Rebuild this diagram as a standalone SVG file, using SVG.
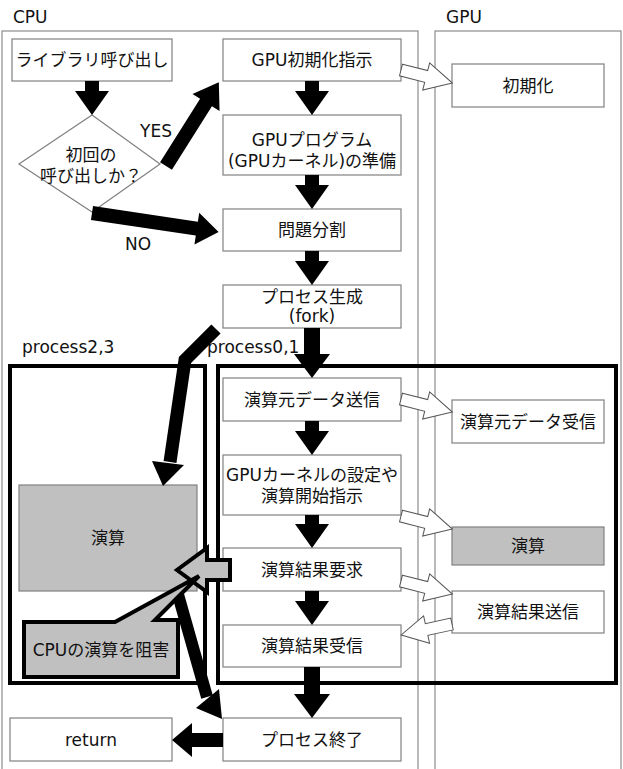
<svg xmlns="http://www.w3.org/2000/svg" width="623" height="769" viewBox="0 0 623 769">
<style>
.lane{fill:#fff;stroke:#8c8c8c;stroke-width:1.2}
.box{fill:#fff;stroke:#808080;stroke-width:1.2}
.gbox{fill:#c0c0c0;stroke:#808080;stroke-width:1.2}
.frame{fill:none;stroke:#000;stroke-width:4}
.t{font-family:"DejaVu Sans","Noto Sans CJK JP",sans-serif;font-size:17px;fill:#111;text-anchor:middle}
.l{font-family:"DejaVu Sans","Noto Sans CJK JP",sans-serif;font-size:17px;fill:#111}
.ba{fill:#000}
.wa{fill:#fff;stroke:#555;stroke-width:1}
.ga{fill:#c0c0c0;stroke:#000;stroke-width:4;stroke-linejoin:miter}
</style>
<rect width="623" height="769" fill="#fff"/>
<g id="lanes">
<rect class="lane" x="2" y="31" width="416" height="760"/>
<rect class="lane" x="435" y="31" width="186" height="760"/>
<text class="l" x="13" y="23">CPU</text>
<text class="l" x="446" y="23">GPU</text>
</g>
<g id="frames">
<rect class="frame" x="10" y="366" width="195" height="317"/>
<rect class="frame" x="218" y="366" width="398" height="317"/>
<text class="l" x="22" y="353">process2,3</text>
<text class="l" x="207" y="353">process0,1</text>
</g>
<g id="n-lib"><rect class="box" x="12" y="39" width="160" height="42"/><text class="t" x="92" y="66">ライブラリ呼び出し</text></g>
<g id="n-gpuinit"><rect class="box" x="223" y="39" width="178" height="42"/><text class="t" x="312" y="66">GPU初期化指示</text></g>
<g id="n-init"><rect class="box" x="452" y="64" width="152" height="43"/><text class="t" x="528" y="92">初期化</text></g>
<g id="n-decision"><polygon points="92,115 160,164 92,212 19,164" fill="#fff" stroke="#808080" stroke-width="1.2"/><text class="t" x="91" y="161">初回の</text><text class="t" x="91" y="182">呼び出しか？</text></g>
<g id="n-prep"><rect class="box" x="223" y="115" width="178" height="60"/><text class="t" x="312" y="146">GPUプログラム</text><text class="t" x="312" y="167">(GPUカーネル)の準備</text></g>
<g id="n-split"><rect class="box" x="223" y="209" width="178" height="42"/><text class="t" x="312" y="236">問題分割</text></g>
<g id="n-fork"><rect class="box" x="223" y="285" width="178" height="43"/><text class="t" x="312" y="303">プロセス生成</text><text class="t" x="312" y="322">(fork)</text></g>
<g id="n-send"><rect class="box" x="223" y="378" width="178" height="43"/><text class="t" x="312" y="406">演算元データ送信</text></g>
<g id="n-recv"><rect class="box" x="452" y="400" width="152" height="43"/><text class="t" x="528" y="428">演算元データ受信</text></g>
<g id="n-kernel"><rect class="box" x="223" y="455" width="178" height="60"/><text class="t" x="312" y="481">GPUカーネルの設定や</text><text class="t" x="312" y="502">演算開始指示</text></g>
<g id="n-cpucalc"><rect class="gbox" x="19" y="485" width="178" height="106"/><text class="t" x="108" y="544">演算</text></g>
<g id="n-gpucalc"><rect class="gbox" x="452" y="527" width="152" height="38"/><text class="t" x="528" y="552">演算</text></g>
<g id="n-req"><rect class="box" x="223" y="548" width="178" height="43"/><text class="t" x="312" y="576">演算結果要求</text></g>
<g id="n-result"><rect class="box" x="452" y="591" width="152" height="42"/><text class="t" x="528" y="618">演算結果送信</text></g>
<g id="n-resrecv"><rect class="box" x="223" y="625" width="178" height="42"/><text class="t" x="312" y="652">演算結果受信</text></g>
<g id="n-end"><rect class="box" x="223" y="718" width="178" height="43"/><text class="t" x="312" y="746">プロセス終了</text></g>
<g id="n-return"><rect class="box" x="10" y="718" width="162" height="43"/><text class="t" x="91" y="746">return</text></g>
<g id="connectors">
<polygon class="ba" points="85,81 99,81 99,91 109,91 92,115 75,91 85,91"/>
<polygon class="ba" points="305,81 319,81 319,91 329,91 312,115 295,91 305,91"/>
<polygon class="ba" points="305,175 319,175 319,185 329,185 312,209 295,185 305,185"/>
<polygon class="ba" points="305,251 319,251 319,261 329,261 312,285 295,261 305,261"/>
<polygon class="ba" points="304,328 320,328 320,354 330,354 312,378 294,354 304,354"/>
<polygon class="ba" points="305,421 319,421 319,431 329,431 312,455 295,431 305,431"/>
<polygon class="ba" points="305,515 319,515 319,524 329,524 312,548 295,524 305,524"/>
<polygon class="ba" points="305,591 319,591 319,601 329,601 312,625 295,601 305,601"/>
<polygon class="ba" points="304,667 320,667 320,694 330,694 312,718 294,694 304,694"/>
<polygon class="ba" points="223,733 192,733 192,723 172,740 192,757 192,747 223,747"/>
<polygon class="ba" transform="translate(166,166) rotate(-57.75)" points="0,-7 75,-7 75,-16 99,0 75,16 75,7 0,7"/>
<polygon class="ba" transform="translate(92,213) rotate(8.5)" points="0,-7 106,-7 106,-16 128,0 106,16 106,7 0,7"/>
<path d="M216,329 L185,360 L170,462" fill="none" stroke="#000" stroke-width="13"/>
<polygon class="ba" points="152,461 184,465 163,486"/>
<path d="M177,591 L207,697" fill="none" stroke="#000" stroke-width="12"/>
<polygon class="ba" points="196,708 219,689 222,719"/>
<polygon class="wa" transform="translate(401,70) rotate(14.3)" points="0,-6 26,-6 26,-14 53,0 26,14 26,6 0,6"/>
<polygon class="wa" transform="translate(401,399) rotate(14.3)" points="0,-6 26,-6 26,-14 53,0 26,14 26,6 0,6"/>
<polygon class="wa" transform="translate(401,516) rotate(14.3)" points="0,-6 26,-6 26,-14 53,0 26,14 26,6 0,6"/>
<polygon class="wa" transform="translate(401,581) rotate(14.3)" points="0,-6 26,-6 26,-14 53,0 26,14 26,6 0,6"/>
<polygon class="wa" transform="translate(452,624) rotate(167.8)" points="0,-6 26,-6 26,-14 52,0 26,14 26,6 0,6"/>
<polygon class="ga" points="230,560 207,560 207,548 177,570 207,592 207,580 230,580"/>
<text class="l" x="140" y="137">YES</text>
<text class="l" x="125" y="250">NO</text>
</g>
<g id="n-callout"><polygon class="ga" points="24,622 115,622 199,576 155,620 178,620 178,677 24,677"/><text class="t" x="101" y="656">CPUの演算を阻害</text></g>
</svg>
